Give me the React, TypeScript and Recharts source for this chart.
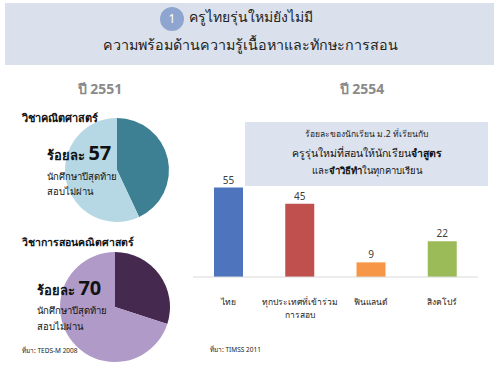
import React from "react";
import { PieChart, Pie, Cell, BarChart, Bar, XAxis, YAxis, LabelList } from "recharts";

const mathPie = [
  { name: "สอบผ่าน", value: 43 },
  { name: "สอบไม่ผ่าน", value: 57 },
];
const teachingPie = [
  { name: "สอบผ่าน", value: 30 },
  { name: "สอบไม่ผ่าน", value: 70 },
];
const countries = ["ไทย", "ทุกประเทศที่เข้าร่วม\nการสอบ", "ฟินแลนด์", "สิงคโปร์"];
const percents = [55, 45, 9, 22];

const MATH_COLORS = ["#3d7f93", "#b6d8e4"];
const TEACH_COLORS = ["#45294f", "#b09bc8"];
const BAR_COLORS = ["#4f74be", "#c0504d", "#f79646", "#9bbb59"];

const barData = countries.map((c, i) => ({ name: c, value: percents[i] }));

const FONT = "'Noto Sans', 'DejaVu Sans', sans-serif";

function CountryTick(props: any) {
  const { x, y, payload } = props;
  const lines = String(payload.value).split("\n");
  return (
    <g transform={`translate(${x},${y})`}>
      {lines.map((l, i) => (
        <text key={i} x={0} y={20 + i * 13} textAnchor="middle" fontSize={8.5} fill="#222" fontFamily={FONT}>
          {l}
        </text>
      ))}
    </g>
  );
}

const abs = (style: React.CSSProperties): React.CSSProperties => ({
  position: "absolute",
  whiteSpace: "nowrap",
  lineHeight: 1,
  ...style,
});

export default function App() {
  return (
    <div style={{ position: "absolute", left: 0, top: 0, width: 500, height: 381, background: "#fff", fontFamily: FONT, overflow: "hidden" }}>
      {/* header */}
      <div style={abs({ left: 5, top: 3, width: 489, height: 62, background: "#dae1ed" })} />
      <div style={abs({ left: 160, top: 7, width: 24, height: 24, borderRadius: 12, background: "#8ea6cf", color: "#fff", fontSize: 12, textAlign: "center", lineHeight: "24px" })}>1</div>
      <div style={abs({ left: 189, top: 10, fontSize: 14, color: "#222" })}>ครูไทยรุ่นใหม่ยังไม่มี</div>
      <div style={abs({ left: 0, width: 500, top: 38, fontSize: 14.3, color: "#222", textAlign: "center" })}>ความพร้อมด้านความรู้เนื้อหาและทักษะการสอน</div>

      <div style={abs({ left: 60, width: 80, top: 82, fontSize: 14, fontWeight: 700, color: "#8a8a8a", textAlign: "center" })}>ปี 2551</div>
      <div style={abs({ left: 322, width: 80, top: 82, fontSize: 14, fontWeight: 700, color: "#8a8a8a", textAlign: "center" })}>ปี 2554</div>

      {/* pies */}
      <div style={abs({ left: 57, top: 110 })}>
        <PieChart width={120} height={120} margin={{ top: 0, right: 0, bottom: 0, left: 0 }}>
          <Pie data={mathPie} dataKey="value" cx={60} cy={60} outerRadius={52} startAngle={90} endAngle={-270} stroke="none" isAnimationActive={false}>
            {mathPie.map((_, i) => (
              <Cell key={i} fill={MATH_COLORS[i]} />
            ))}
          </Pie>
        </PieChart>
      </div>
      <div style={abs({ left: 55, top: 247 })}>
        <PieChart width={120} height={120} margin={{ top: 0, right: 0, bottom: 0, left: 0 }}>
          <Pie data={teachingPie} dataKey="value" cx={60} cy={60} outerRadius={55} startAngle={90} endAngle={-270} stroke="none" isAnimationActive={false}>
            {teachingPie.map((_, i) => (
              <Cell key={i} fill={TEACH_COLORS[i]} />
            ))}
          </Pie>
        </PieChart>
      </div>

      <div style={abs({ left: 22, top: 112, fontSize: 11, fontWeight: 700, color: "#111" })}>วิชาคณิตศาสตร์</div>
      <div style={abs({ left: 47, top: 143, fontSize: 13, fontWeight: 700, color: "#111" })}>
        ร้อยละ <span style={{ fontSize: 20 }}>57</span>
      </div>
      <div style={abs({ left: 47, top: 172, fontSize: 9.5, color: "#111" })}>นักศึกษาปีสุดท้าย</div>
      <div style={abs({ left: 47, top: 187, fontSize: 9.5, color: "#111" })}>สอบไม่ผ่าน</div>

      <div style={abs({ left: 22, top: 237, fontSize: 10.5, fontWeight: 700, color: "#111" })}>วิชาการสอนคณิตศาสตร์</div>
      <div style={abs({ left: 37, top: 278, fontSize: 13, fontWeight: 700, color: "#111" })}>
        ร้อยละ <span style={{ fontSize: 20 }}>70</span>
      </div>
      <div style={abs({ left: 37, top: 306, fontSize: 9.5, color: "#111" })}>นักศึกษาปีสุดท้าย</div>
      <div style={abs({ left: 37, top: 322, fontSize: 9.5, color: "#111" })}>สอบไม่ผ่าน</div>
      <div style={abs({ left: 22, top: 348, fontSize: 6.5, color: "#222" })}>ที่มา: TEDS-M 2008</div>

      {/* bars */}
      <div style={abs({ left: 180, top: 100 })}>
        <BarChart width={320} height={281} data={barData} margin={{ top: 79.4, right: 22, bottom: 74, left: 13 }}>
          <XAxis dataKey="name" axisLine={{ stroke: "#d9d9d9" }} tickLine={false} interval={0} tick={<CountryTick />} />
          <YAxis hide domain={[0, 60]} />
          <Bar dataKey="value" barSize={29} isAnimationActive={false}>
            {barData.map((_, i) => (
              <Cell key={i} fill={BAR_COLORS[i]} />
            ))}
            <LabelList dataKey="value" position="top" offset={4} fontSize={10} fill="#404040" fontFamily={FONT} />
          </Bar>
        </BarChart>
      </div>
      <div style={abs({ left: 210, top: 347, fontSize: 6.5, color: "#222" })}>ที่มา: TIMSS 2011</div>

      <div style={abs({ left: 245, top: 122, width: 243, height: 64, background: "#dce3ef" })} />
      <div style={abs({ left: 245, width: 243, top: 130, fontSize: 8.5, color: "#222", textAlign: "center" })}>ร้อยละของนักเรียน ม.2 ที่เรียนกับ</div>
      <div style={abs({ left: 245, width: 243, top: 148, fontSize: 10.5, color: "#111", textAlign: "center" })}>
        ครูรุ่นใหม่ที่สอนให้นักเรียน<b>จำสูตร</b>
      </div>
      <div style={abs({ left: 245, width: 243, top: 166, fontSize: 9.5, color: "#111", textAlign: "center" })}>
        และ<b>จำวิธีทำ</b>ในทุกคาบเรียน
      </div>
    </div>
  );
}
